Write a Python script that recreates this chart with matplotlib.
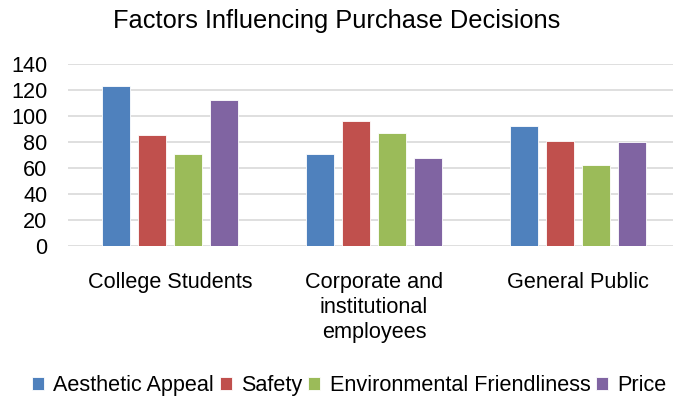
import numpy as np
import matplotlib.pyplot as plt

plt.rcParams['font.family'] = ['Liberation Sans', 'DejaVu Sans']

# data
groups = ['College Students', 'Corporate and\ninstitutional\nemployees', 'General Public']
series = ['Aesthetic Appeal', 'Safety', 'Environmental Friendliness', 'Price']
aesthetic = [123, 71, 92]
safety = [85, 96, 81]
environment = [71, 87, 62]
price = [112, 68, 80]
colors = ['#4F81BD', '#C0504D', '#9BBB59', '#8064A2']

fig = plt.figure(figsize=(6.73, 4), dpi=100)
ax = fig.add_axes([68 / 673, 154 / 400, 605 / 673, 182 / 400])

x = np.arange(len(groups))
pitch = 0.176
width = 0.137
for i, (vals, name) in enumerate(zip([aesthetic, safety, environment, price], series)):
    ax.bar(x + (i - 1.5) * pitch, vals, width, color=colors[i], label=name,
           edgecolor='white', linewidth=0.6, zorder=3)

ax.set_ylim(0, 140)
ax.set_yticks(range(0, 141, 20))
ax.set_xlim(-0.5, -0.5 + 605 / 204)
ax.set_xticks(x)
ax.set_xticklabels(groups, linespacing=1.25)
ax.tick_params(axis='both', length=0, labelsize=15.6)
ax.tick_params(axis='x', pad=19)
ax.tick_params(axis='y', pad=15)
ax.grid(axis='y', color='#D9D9D9', linewidth=1.2, zorder=0)
for s in ax.spines.values():
    s.set_visible(False)

fig.suptitle('Factors Influencing Purchase Decisions', fontsize=18.3, y=0.978)

fig.legend(loc='center', bbox_to_anchor=(0.519, 0.037), ncol=4, frameon=False,
           fontsize=15.6, handlelength=0.55, handleheight=0.55, handletextpad=0.45,
           columnspacing=0.25)

plt.savefig('out.png')
